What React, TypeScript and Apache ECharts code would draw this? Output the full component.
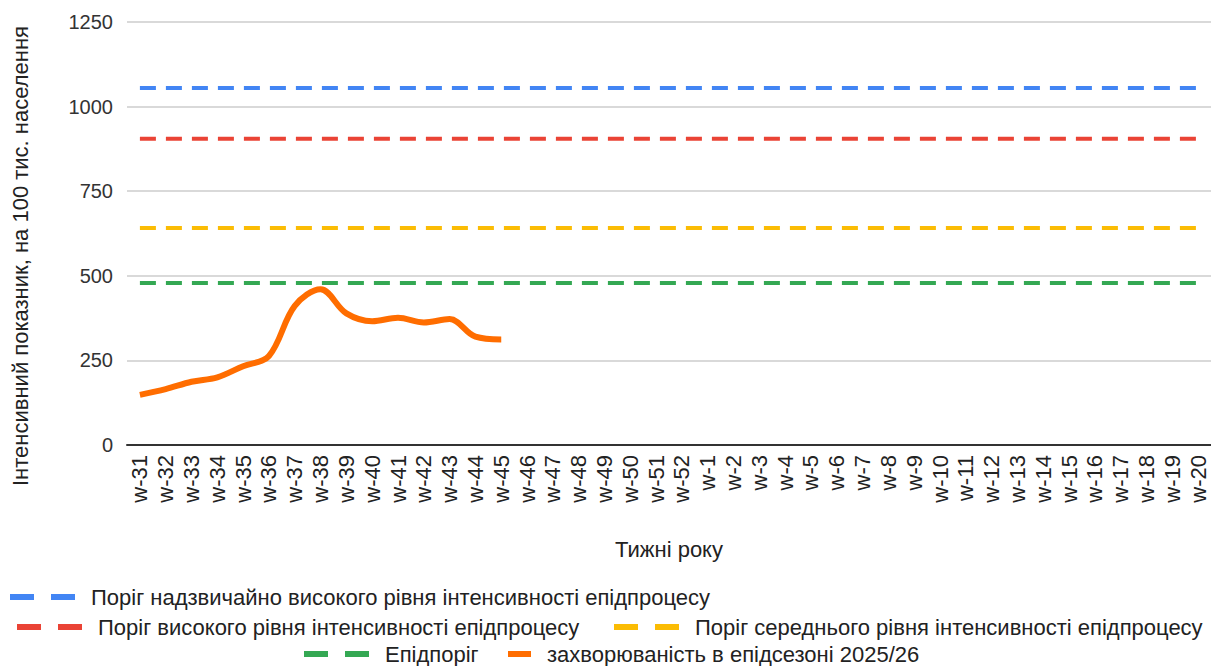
import React, { useEffect, useRef } from "react";
import * as echarts from "echarts";

const weeks: string[] = [
  "w-31","w-32","w-33","w-34","w-35","w-36","w-37","w-38","w-39","w-40","w-41","w-42","w-43","w-44","w-45","w-46","w-47","w-48","w-49","w-50","w-51","w-52",
  "w-1","w-2","w-3","w-4","w-5","w-6","w-7","w-8","w-9","w-10","w-11","w-12","w-13","w-14","w-15","w-16","w-17","w-18","w-19","w-20",
];

const incidence: number[] = [148, 165, 187, 200, 233, 263, 411, 460, 389, 366, 376, 362, 372, 320, 312];

const extremeThreshold = 1055;
const highThreshold = 905;
const mediumThreshold = 641;
const epiThreshold = 479;

const yTicks = { min: 0, max: 1250, interval: 250 };

const names = {
  extreme: "Поріг надзвичайно високого рівня інтенсивності епідпроцесу",
  high: "Поріг високого рівня інтенсивності епідпроцесу",
  medium: "Поріг середнього рівня інтенсивності епідпроцесу",
  epi: "Епідпоріг",
  season: "захворюваність в епідсезоні 2025/26",
};

const colors = {
  extreme: "#4285f4",
  high: "#ea4335",
  medium: "#fbbc04",
  epi: "#34a853",
  season: "#ff6d00",
};

const FONT = "'Liberation Sans', Arial, sans-serif";
const dashIcon = "path://M0,0h24v6h-24z M41,0h24v6h-24z";
const soloIcon = "path://M0,0h23v6h-23z";

function App() {
  const ref = useRef<HTMLDivElement>(null);
  useEffect(() => {
    if (!ref.current) return;
    const chart = echarts.init(ref.current, undefined, { renderer: "svg" });
    const flat = (v: number) => weeks.map(() => v);
    const dashed = (key: keyof typeof colors, v: number) => ({
      name: names[key],
      type: "line" as const,
      data: flat(v),
      symbol: "none",
      lineStyle: { color: colors[key], width: 4, type: [16, 10] as any, cap: "butt" as const },
      itemStyle: { color: colors[key] },
      silent: true,
      z: 2,
    });
    const legendBase = (left: number, top: number, item: string, icon: string, w: number) => ({
      left,
      top,
      orient: "horizontal" as const,
      padding: 0,
      itemWidth: w,
      itemHeight: 6,
      icon,
      data: [{ name: item, icon }],
      selectedMode: false,
      textStyle: { fontFamily: FONT, fontSize: 22, color: "#222", lineHeight: 22, padding: [0, 0, 0, 11] },
    });
    chart.setOption({
      animation: false,
      backgroundColor: "#fff",
      textStyle: { fontFamily: FONT },
      grid: { left: 127, top: 22, width: 1088, height: 423, containLabel: false },
      xAxis: {
        type: "category",
        data: weeks,
        boundaryGap: true,
        axisLine: { lineStyle: { color: "#333", width: 2 } },
        axisTick: { show: false },
        axisLabel: { rotate: 90, interval: 0, margin: 10, fontFamily: FONT, fontSize: 22, color: "#222" },
        name: "Тижні року",
        nameLocation: "middle",
        nameGap: 93,
        nameTextStyle: { fontFamily: FONT, fontSize: 22, color: "#222" },
      },
      yAxis: {
        type: "value",
        min: yTicks.min,
        max: yTicks.max,
        interval: yTicks.interval,
        axisLine: { show: false },
        axisTick: { show: false },
        splitLine: { lineStyle: { color: "#ccc", width: 1.5 } },
        axisLabel: {
          margin: 14,
          fontFamily: FONT,
          fontSize: 20,
          color: "#333",
          formatter: (v: number) => String(v),
        },
      },
      legend: [
        legendBase(10, 586, names.extreme, dashIcon, 65),
        legendBase(17, 616, names.high, dashIcon, 65),
        legendBase(614, 616, names.medium, dashIcon, 65),
        legendBase(304, 643, names.epi, dashIcon, 65),
        legendBase(508, 643, names.season, soloIcon, 23),
      ],
      graphic: [
        {
          type: "text",
          x: 20,
          y: 256,
          rotation: Math.PI / 2,
          style: {
            text: "Інтенсивний показник, на 100 тис. населення",
            font: `22px ${FONT}`,
            fill: "#222",
            align: "center",
            verticalAlign: "middle",
          },
        },
      ],
      series: [
        dashed("extreme", extremeThreshold),
        dashed("high", highThreshold),
        dashed("medium", mediumThreshold),
        dashed("epi", epiThreshold),
        {
          name: names.season,
          type: "line",
          data: incidence,
          symbol: "none",
          smooth: 0.35,
          lineStyle: { color: colors.season, width: 6 },
          itemStyle: { color: colors.season },
          z: 3,
        },
      ],
    });
    return () => chart.dispose();
  }, []);
  return (
    <div
      ref={ref}
      style={{ position: "fixed", left: 0, top: 0, width: 1211, height: 666, background: "#fff" }}
    />
  );
}

export default App;
